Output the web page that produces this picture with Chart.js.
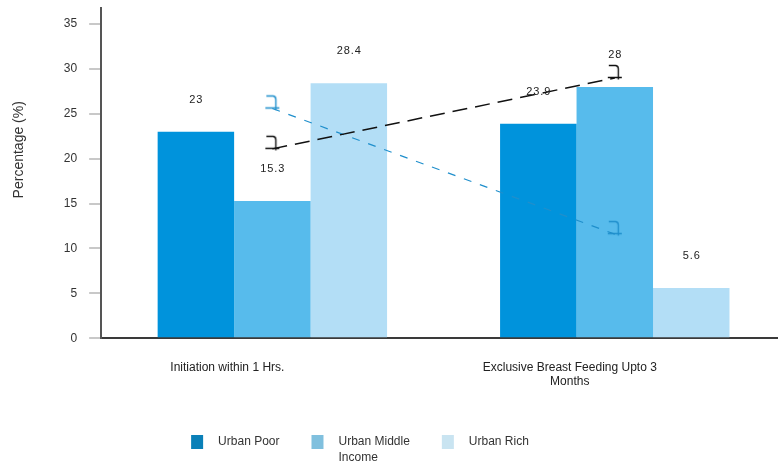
<!DOCTYPE html>
<html>
<head>
<meta charset="utf-8">
<script src="https://cdn.jsdelivr.net/npm/chart.js@4/dist/chart.umd.min.js"></script>
<style>
html,body{margin:0;padding:0;background:#fff;overflow:hidden;}
#wrap{width:786px;height:463px;position:relative;}
</style>
</head>
<body>
<div id="wrap"><canvas id="c"></canvas></div>
<script>
// ---- data ----
const categories = [['Initiation within 1 Hrs.'], ['Exclusive Breast Feeding Upto 3', 'Months']];
const seriesNames = ['Urban Poor', ['Urban Middle', 'Income'], 'Urban Rich'];
const urbanPoor = [23, 23.9];
const urbanMiddle = [15.3, 28];
const urbanRich = [28.4, 5.6];
const blackTrend = [21.1, 29.0];
const blueTrend = [25.6, 11.6];
const yTickValues = [0, 5, 10, 15, 20, 25, 30, 35];
const yTitle = 'Percentage (%)';

// ---- styles ----
const barColors = ['#0093dc', '#57bbec', '#b3def6'];
const legendColors = ['#0a80b8', '#80c0de', '#c9e4f1'];
const FONT = "'Liberation Sans', 'DejaVu Sans', sans-serif";

function makeMarker(color) {
  const cv = document.createElement('canvas');
  cv.width = 16; cv.height = 30;
  const g = cv.getContext('2d');
  g.strokeStyle = color;
  g.lineWidth = 1.4;
  g.beginPath();
  g.moveTo(2, 2.5);
  g.lineTo(9, 2.5);
  g.quadraticCurveTo(11.5, 3, 11.5, 6);
  g.lineTo(11.5, 16.5);
  g.moveTo(1, 14.5);
  g.lineTo(15, 14.5);
  g.stroke();
  return cv;
}

const barLabelPlugin = {
  id: 'barLabels',
  afterDatasetsDraw(chart) {
    const ctx = chart.ctx;
    ctx.save();
    ctx.font = "11px " + FONT;
    ctx.fillStyle = '#222';
    ctx.textAlign = 'center';
    ctx.textBaseline = 'middle';
    chart.data.datasets.forEach((ds, i) => {
      if (ds.type === 'line') return;
      const meta = chart.getDatasetMeta(i);
      meta.data.forEach((el, j) => {
        ctx.fillText(String(ds.data[j]).split('').join(String.fromCharCode(8202)), el.x, el.y - 32);
      });
    });
    ctx.restore();
  }
};

const legendPlugin = {
  id: 'customLegend',
  afterDraw(chart) {
    const ctx = chart.ctx;
    ctx.save();
    ctx.font = "12px " + FONT;
    ctx.textBaseline = 'middle';
    ctx.textAlign = 'left';
    const items = chart.data.datasets.filter(d => d.type !== 'line');
    const widths = items.map(d => {
      const lines = Array.isArray(d.label) ? d.label : [d.label];
      return 12 + 15 + Math.max(...lines.map(l => ctx.measureText(l).width));
    });
    const gap = 32;
    const total = widths.reduce((a, b) => a + b, 0) + gap * (items.length - 1);
    let x = 360 - total / 2;
    const y = 442;
    items.forEach((d, i) => {
      ctx.fillStyle = legendColors[i];
      ctx.fillRect(x, y - 7, 12, 14);
      ctx.fillStyle = '#333';
      const lines = Array.isArray(d.label) ? d.label : [d.label];
      lines.forEach((l, k) => ctx.fillText(l, x + 27, y + k * 16));
      x += widths[i] + gap;
    });
    ctx.restore();
  }
};

new Chart(document.getElementById('c'), {
  type: 'bar',
  data: {
    labels: categories,
    datasets: [
      { type: 'line', label: 'trend A', data: blackTrend, borderColor: '#111', borderWidth: 1.5,
        borderDash: [15, 8], pointStyle: makeMarker('#111'), pointRadius: 8, fill: false, order: 0 },
      { type: 'line', label: 'trend B', data: blueTrend, borderColor: '#1f8fcc', borderWidth: 1.2,
        borderDash: [8, 9], pointStyle: makeMarker('#1f8fcc'), pointRadius: 8, fill: false, order: 0 },
      { label: seriesNames[0], data: urbanPoor, backgroundColor: barColors[0], order: 1 },
      { label: seriesNames[1], data: urbanMiddle, backgroundColor: barColors[1], order: 1 },
      { label: seriesNames[2], data: urbanRich, backgroundColor: barColors[2], order: 1 }
    ]
  },
  options: {
    responsive: true,
    maintainAspectRatio: false,
    animation: false,
    devicePixelRatio: 1,
    layout: { autoPadding: false, padding: { top: 8, left: 5, right: 0, bottom: 52 } },
    datasets: { bar: { categoryPercentage: 0.67, barPercentage: 1.0 } },
    plugins: {
      legend: { display: false },
      tooltip: { enabled: false }
    },
    scales: {
      x: {
        grid: { display: false, drawTicks: false },
        border: { display: true, color: '#3a3a3a', width: 2 },
        ticks: { color: '#222', font: { family: FONT, size: 12 }, padding: 22, labelOffset: -45, maxRotation: 0 }
      },
      y: {
        min: 0,
        max: 36.8,
        afterBuildTicks: axis => { axis.ticks = yTickValues.map(v => ({ value: v })); },
        afterFit: axis => { axis.paddingTop = 0; },
        grid: { drawOnChartArea: false, drawTicks: true, tickLength: 12, color: '#c8c8c8', lineWidth: 2 },
        border: { display: true, color: '#555', width: 2 },
        ticks: { color: '#333', font: { family: FONT, size: 12 }, padding: 12 },
        title: { display: true, text: ' '.repeat(12) + yTitle, color: '#333', font: { family: FONT, size: 14 }, padding: { top: 6, bottom: 24 } }
      }
    }
  },
  plugins: [barLabelPlugin, legendPlugin]
});
</script>
</body>
</html>
